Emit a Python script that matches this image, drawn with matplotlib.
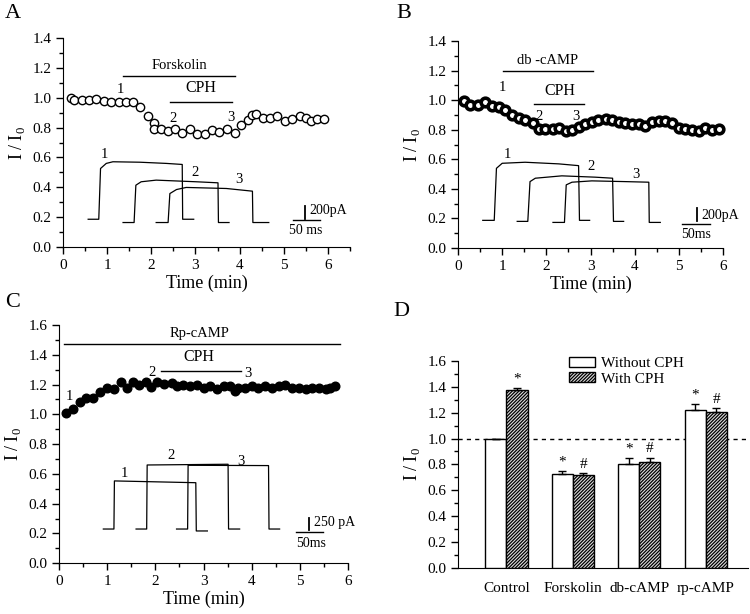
import numpy as np
import matplotlib
matplotlib.use("Agg")
import matplotlib.pyplot as plt
from matplotlib.ticker import MultipleLocator

plt.rcParams['font.family'] = ['Liberation Serif', 'DejaVu Serif']
plt.rcParams['mathtext.fontset'] = 'custom'
plt.rcParams['mathtext.rm'] = 'Liberation Serif'
plt.rcParams['hatch.linewidth'] = 0.9

# ---------------- data ----------------
# panel A : forskolin
a_t = [0.17, 0.26, 0.42, 0.59, 0.75, 0.92, 1.09, 1.26, 1.42, 1.58, 1.75, 1.92, 2.05, 2.05,
       2.23, 2.38, 2.54, 2.70, 2.88, 3.04, 3.21, 3.37, 3.53, 3.72, 3.89, 4.02, 4.19, 4.28,
       4.38, 4.53, 4.68, 4.85, 5.02, 5.18, 5.36, 5.51, 5.61, 5.76, 5.92]
a_i = [1.00, 0.986, 0.988, 0.988, 0.992, 0.981, 0.972, 0.972, 0.968, 0.972, 0.941, 0.878,
       0.833, 0.789, 0.789, 0.777, 0.789, 0.762, 0.791, 0.755, 0.755, 0.784, 0.768, 0.789,
       0.766, 0.815, 0.851, 0.885, 0.894, 0.862, 0.867, 0.880, 0.847, 0.858, 0.878, 0.862,
       0.847, 0.856, 0.858]
a_tr_x = [[0.57, 0.81, 0.85, 0.98, 1.13, 1.74, 2.34, 2.70, 2.71, 2.96],
          [1.36, 1.61, 1.65, 1.77, 2.11, 3.02, 3.51, 3.52, 3.76],
          [2.11, 2.38, 2.42, 2.57, 2.79, 3.70, 4.29, 4.30, 4.66]]
a_tr_y = [[0.186, 0.186, 0.526, 0.560, 0.571, 0.568, 0.560, 0.553, 0.186, 0.186],
          [0.164, 0.164, 0.414, 0.437, 0.448, 0.437, 0.430, 0.164, 0.164],
          [0.164, 0.164, 0.358, 0.385, 0.399, 0.392, 0.374, 0.164, 0.164]]

# panel B : db-cAMP
b_t = [0.13, 0.28, 0.45, 0.62, 0.77, 0.92, 1.07, 1.22, 1.37, 1.52, 1.69, 1.83, 1.98, 2.14,
       2.29, 2.45, 2.58, 2.73, 2.88, 3.03, 3.18, 3.34, 3.49, 3.64, 3.79, 3.94, 4.09, 4.24,
       4.39, 4.54, 4.69, 4.85, 5.00, 5.15, 5.30, 5.45, 5.60, 5.75, 5.90]
b_i = [0.993, 0.966, 0.964, 0.985, 0.958, 0.953, 0.931, 0.901, 0.881, 0.867, 0.845, 0.807,
       0.802, 0.807, 0.811, 0.791, 0.796, 0.818, 0.836, 0.854, 0.867, 0.874, 0.863, 0.849,
       0.845, 0.840, 0.836, 0.822, 0.849, 0.861, 0.861, 0.845, 0.811, 0.804, 0.800, 0.791,
       0.813, 0.796, 0.804]
b_tr_x = [[0.56, 0.82, 0.87, 1.00, 1.52, 2.28, 2.73, 2.75, 2.98],
          [1.34, 1.58, 1.63, 1.75, 2.35, 3.11, 3.50, 3.52, 3.75],
          [2.15, 2.41, 2.45, 2.58, 3.03, 3.79, 4.32, 4.33, 4.58]]
b_tr_y = [[0.187, 0.187, 0.539, 0.573, 0.580, 0.569, 0.557, 0.187, 0.187],
          [0.180, 0.180, 0.449, 0.472, 0.488, 0.479, 0.472, 0.180, 0.180],
          [0.173, 0.173, 0.427, 0.445, 0.454, 0.449, 0.445, 0.173, 0.173]]

# panel C : Rp-cAMP
c_t = [0.145, 0.30, 0.44, 0.57, 0.71, 0.85, 0.99, 1.14, 1.29, 1.42, 1.54, 1.67, 1.80, 1.91,
       2.04, 2.18, 2.34, 2.44, 2.58, 2.72, 2.86, 3.00, 3.14, 3.28, 3.42, 3.56, 3.65, 3.72,
       3.86, 4.00, 4.14, 4.28, 4.42, 4.56, 4.70, 4.84, 4.98, 5.12, 5.26, 5.40, 5.54, 5.62, 5.73]
c_i = [1.009, 1.038, 1.083, 1.107, 1.112, 1.148, 1.179, 1.172, 1.215, 1.179, 1.219, 1.195,
       1.219, 1.186, 1.215, 1.204, 1.208, 1.192, 1.20, 1.19, 1.20, 1.18, 1.19, 1.17, 1.19,
       1.19, 1.155, 1.18, 1.18, 1.19, 1.18, 1.19, 1.18, 1.19, 1.20, 1.18, 1.18, 1.17, 1.18,
       1.18, 1.17, 1.18, 1.19]
c_tr_x = [[0.92, 1.14, 1.15, 2.84, 2.85, 3.08],
          [1.60, 1.82, 1.83, 3.51, 3.52, 3.75],
          [2.44, 2.67, 2.68, 4.35, 4.36, 4.58]]
c_tr_y = [[0.230, 0.230, 0.553, 0.541, 0.217, 0.217],
          [0.230, 0.230, 0.660, 0.665, 0.230, 0.230],
          [0.230, 0.230, 0.658, 0.656, 0.230, 0.230]]

# panel D : summary
groups = ['Control', 'Forskolin', 'db-cAMP', 'rp-cAMP']
without_cph = [1.0, 0.723, 0.803, 1.22]
without_err = [0.0, 0.025, 0.043, 0.045]
with_cph = [1.375, 0.72, 0.82, 1.205]
with_err = [0.018, 0.01, 0.03, 0.028]
without_mark = ['', '*', '*', '*']
with_mark = ['*', '#', '#', '#']

TXT = 10.5


def style_axis(ax, xmax, ymax, xminor=0.5, yminor=0.1):
    for s in ['top', 'right']:
        ax.spines[s].set_visible(False)
    ax.set_xlim(0, xmax)
    ax.set_ylim(0, ymax)
    ax.xaxis.set_major_locator(MultipleLocator(1))
    ax.xaxis.set_minor_locator(MultipleLocator(xminor))
    ax.yaxis.set_major_locator(MultipleLocator(0.2))
    ax.yaxis.set_minor_locator(MultipleLocator(yminor))
    ax.yaxis.set_major_formatter(matplotlib.ticker.FormatStrFormatter('%.1f'))
    ax.tick_params(which='major', length=5, width=1, labelsize=11, direction='out')
    ax.tick_params(which='minor', length=3, width=1, direction='out')
    ax.set_xlabel('Time (min)', fontsize=13, labelpad=2)
    ax.set_ylabel('I / I$_0$', fontsize=13, labelpad=4)


def draw_traces(ax, xs, ys):
    for x, y in zip(xs, ys):
        ax.plot(x, y, color='black', lw=0.9, clip_on=False)


fig = plt.figure(figsize=(7.5, 6.14), dpi=100)

# ---------- A ----------
axA = fig.add_axes([0.084, 0.5977, 0.3827, 0.3404])
style_axis(axA, 6.5, 1.4)
axA.plot(a_t, a_i, 'o', ms=6, mfc='white', mec='black', mew=1, clip_on=False)
axA.plot([1.36, 3.90], [1.147, 1.147], color='black', lw=1)
axA.text(2.63, 1.175, 'Forskolin', ha='center', va='bottom', fontsize=TXT)
axA.plot([2.42, 3.83], [0.97, 0.97], color='black', lw=1)
axA.text(3.12, 1.01, 'CPH', ha='center', va='bottom', fontsize=11.5)
for s, x, y in [('1', 1.30, 1.057), ('2', 2.48, 0.862), ('3', 3.80, 0.869)]:
    axA.text(x, y, s, ha='center', va='center', fontsize=TXT)
draw_traces(axA, a_tr_x, a_tr_y)
for s, x, y in [('1', 0.94, 0.62), ('2', 3.0, 0.50), ('3', 3.98, 0.45)]:
    axA.text(x, y, s, ha='center', va='center', fontsize=TXT)
axA.plot([5.49, 5.49], [0.19, 0.275], color='black', lw=1.3)
axA.plot([5.21, 5.83], [0.181, 0.181], color='black', lw=1)
axA.text(5.57, 0.245, '200pA', ha='left', va='center', fontsize=10)
axA.text(5.49, 0.11, '50 ms', ha='center', va='center', fontsize=10)

# ---------- B ----------
axB = fig.add_axes([0.6107, 0.5961, 0.3533, 0.3371])
style_axis(axB, 6.0, 1.4)
axB.plot(b_t, b_i, 'o', ms=6.2, mfc='white', mec='black', mew=2.6, clip_on=False)
axB.plot([1.02, 3.05], [1.198, 1.198], color='black', lw=1)
axB.text(2.02, 1.225, 'db -cAMP', ha='center', va='bottom', fontsize=TXT)
axB.plot([1.71, 2.85], [0.971, 0.971], color='black', lw=1)
axB.text(2.30, 1.01, 'CPH', ha='center', va='bottom', fontsize=11.5)
for s, x, y in [('1', 1.00, 1.083), ('2', 1.83, 0.888), ('3', 2.68, 0.888)]:
    axB.text(x, y, s, ha='center', va='center', fontsize=TXT)
draw_traces(axB, b_tr_x, b_tr_y)
for s, x, y in [('1', 1.11, 0.63), ('2', 3.01, 0.55), ('3', 4.02, 0.50)]:
    axB.text(x, y, s, ha='center', va='center', fontsize=TXT)
axB.plot([5.41, 5.41], [0.184, 0.27], color='black', lw=1.3)
axB.plot([5.07, 5.71], [0.162, 0.162], color='black', lw=1)
axB.text(5.52, 0.222, '200pA', ha='left', va='center', fontsize=10)
axB.text(5.39, 0.094, '50ms', ha='center', va='center', fontsize=10)

# ---------- C ----------
axC = fig.add_axes([0.0787, 0.0826, 0.3853, 0.3881])
style_axis(axC, 6.0, 1.6)
axC.plot(c_t, c_i, 'o', ms=6.2, mfc='black', mec='black', clip_on=False)
axC.plot([0.10, 5.83], [1.472, 1.472], color='black', lw=1)
axC.text(2.91, 1.50, 'Rp-cAMP', ha='center', va='bottom', fontsize=TXT)
axC.plot([2.11, 3.77], [1.293, 1.293], color='black', lw=1)
axC.text(2.91, 1.33, 'CPH', ha='center', va='bottom', fontsize=11.5)
for s, x, y in [('1', 0.21, 1.119), ('2', 1.94, 1.284), ('3', 3.93, 1.271)]:
    axC.text(x, y, s, ha='center', va='center', fontsize=TXT)
draw_traces(axC, c_tr_x, c_tr_y)
for s, x, y in [('1', 1.35, 0.604), ('2', 2.32, 0.723), ('3', 3.77, 0.683)]:
    axC.text(x, y, s, ha='center', va='center', fontsize=TXT)
axC.plot([5.20, 5.20], [0.224, 0.302], color='black', lw=1.3)
axC.plot([4.93, 5.49], [0.208, 0.208], color='black', lw=1)
axC.text(5.29, 0.272, '250 pA', ha='left', va='center', fontsize=10)
axC.text(5.24, 0.134, '50ms', ha='center', va='center', fontsize=10)

# ---------- D ----------
axD = fig.add_axes([0.6107, 0.0754, 0.3867, 0.3366])
for s in ['top', 'right']:
    axD.spines[s].set_visible(False)
pos = np.arange(len(groups))
w = 0.317
axD.bar(pos - w / 2, without_cph, w, color='white', edgecolor='black', lw=1,
        label='Without CPH', zorder=3)
axD.bar(pos + w / 2, with_cph, w, color='#dddddd', edgecolor='black', lw=1,
        hatch='//////////', label='With CPH', zorder=3)
axD.errorbar(pos - w / 2, without_cph, yerr=[np.zeros(4), without_err], fmt='none',
             ecolor='black', elinewidth=1, capsize=3, capthick=1, zorder=4)
axD.errorbar(pos + w / 2, with_cph, yerr=[np.zeros(4), with_err], fmt='none',
             ecolor='black', elinewidth=1, capsize=3, capthick=1, zorder=4)
for i in range(len(groups)):
    if without_mark[i]:
        axD.text(pos[i] - w / 2, without_cph[i] + without_err[i] + 0.02, without_mark[i],
                 ha='center', va='bottom', fontsize=11)
    axD.text(pos[i] + w / 2, with_cph[i] + with_err[i] + 0.02, with_mark[i],
             ha='center', va='bottom', fontsize=11)
axD.axhline(1.0, color='black', lw=1, ls=(0, (3, 3)), zorder=2)
axD.set_xlim(-0.73, 3.64)
axD.set_ylim(0, 1.6)
axD.set_xticks(pos)
axD.set_xticklabels(groups)
axD.yaxis.set_major_locator(MultipleLocator(0.2))
axD.yaxis.set_minor_locator(MultipleLocator(0.1))
axD.yaxis.set_major_formatter(matplotlib.ticker.FormatStrFormatter('%.1f'))
axD.tick_params(axis='x', length=0, labelsize=11, pad=10)
axD.tick_params(axis='y', which='major', length=5, width=1, labelsize=11)
axD.tick_params(axis='y', which='minor', length=3, width=1)
axD.set_ylabel('I / I$_0$', fontsize=13, labelpad=4)
axD.legend(loc='upper left', bbox_to_anchor=(0.36, 1.05), frameon=False, fontsize=11,
           handlelength=1.7, handleheight=0.6, labelspacing=0.15, handletextpad=0.4,
           borderaxespad=0)

# panel letters
fig.text(0.007, 0.993, 'A', fontsize=16, va='top')
fig.text(0.528, 0.993, 'B', fontsize=16, va='top')
fig.text(0.007, 0.522, 'C', fontsize=16, va='top')
fig.text(0.524, 0.508, 'D', fontsize=16, va='top')

fig.savefig('out.png', dpi=100)
